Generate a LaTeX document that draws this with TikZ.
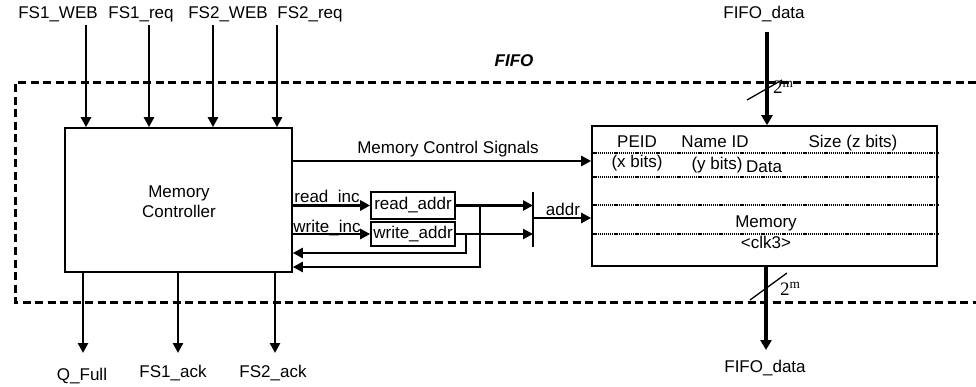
\documentclass[tikz,border=0pt]{standalone}
\usepackage{fontspec}
\setmainfont{Liberation Sans}
\newfontfamily\serifm{Liberation Serif}
\usetikzlibrary{arrows.meta}
\begin{document}
\begin{tikzpicture}[x=1pt,y=-1pt,
  font=\fontsize{17}{20}\selectfont,
  box/.style={draw,line width=1.6pt,inner sep=0pt},
  arr/.style={line width=2.8pt,-{Triangle[length=10pt,width=10pt]}},
  bigarr/.style={line width=4.2pt,-{Triangle[length=10pt,width=11pt]}},
  lbl/.style={anchor=base,inner sep=0pt},
  dotline/.style={line width=2.6pt,dash pattern=on 1.2pt off 0.9pt},
  fifobox/.style={line width=3pt,dash pattern=on 8pt off 4.5pt},
  slash/.style={line width=1.3pt}]
\useasboundingbox (0,0) rectangle (976,387);

% FIFO dashed frame
\draw[fifobox] (976,83) -- (15,83) -- (15,302) -- (976,302);
\node[lbl,font=\fontsize{17}{20}\selectfont\bfseries\itshape] (fifo) at (514,67) {FIFO};

% Memory controller
\node[box,minimum width=227,minimum height=144] (mc) at (178.5,200) {};
\node[lbl] (mct1) at (179,198) {Memory};
\node[lbl] (mct2) at (179,218) {Controller};

% Memory
\node[box,minimum width=345,minimum height=140] (mem) at (764.5,196) {};
\foreach \yy/\nm in {153/d1,177/d2,205/d3,234/d4}{
  \coordinate (\nm) at (0,\yy);
  \draw[dotline] (\nm -| mem.west) -- (\nm -| mem.east);
}
\node[lbl] (peid) at (637,148) {PEID};
\node[lbl] (nameid) at (715,148) {Name ID};
\node[lbl] (size) at (853,148) {Size (z bits)};
\node[lbl] (xb) at (637,168) {(x bits)};
\node[lbl] (yb) at (717,170) {(y bits)};
\node[lbl] (data) at (764,173) {Data};
\node[lbl] (memt) at (766,228) {Memory};
\node[lbl] (clk) at (766,248) {<clk3>};

% top inputs
\foreach \xx/\nm in {86/i1,149/i2,213/i3,277/i4}{
  \coordinate (\nm) at (\xx,25);
  \draw[arr] (\nm) -- (\nm |- mc.north);
}
\node[lbl] (l1) at (58,19) {FS1\_WEB};
\node[lbl] (l2) at (141,19) {FS1\_req};
\node[lbl] (l3) at (228,19) {FS2\_WEB};
\node[lbl] (l4) at (310,19) {FS2\_req};

% bottom outputs
\foreach \xx/\nm in {83/o1,178/o2,275/o3}{
  \coordinate (\nm) at (\xx,353);
  \draw[arr] (\nm |- mc.south) -- (\nm);
}
\node[lbl] (q) at (82,380) {Q\_Full};
\node[lbl] (a1) at (173,377) {FS1\_ack};
\node[lbl] (a2) at (273,377) {FS2\_ack};

% Memory control signals
\coordinate (ms) at (0,161);
\draw[arr] (ms -| mc.east) -- (ms -| mem.west);
\node[lbl] (mcs) at (448,154) {Memory Control Signals};

% address registers
\node[box,minimum width=84,minimum height=27] (ra) at (413,205.5) {read\_addr};
\node[box,minimum width=84,minimum height=24] (wa) at (413,234) {write\_addr};
\draw[arr] (mc.east |- ra.west) -- (ra.west);
\draw[arr] (mc.east |- wa.west) -- (wa.west);
\node[lbl] (ri) at (327,203) {read\_inc};
\node[lbl] (wi) at (327,233) {write\_inc};

% mux bar
\coordinate (mt) at (533,192);
\coordinate (mb) at (533,247);
\draw[line width=2.6pt] (mt) -- (mb);
\draw[arr] (ra.east) -- (ra.east -| mt);
\draw[arr] (wa.east) -- (wa.east -| mt);

% feedback
\coordinate (fb1) at (480,267);
\coordinate (fb2) at (466,253);
\draw[arr] (ra.east -| fb1) -- (fb1) -- (fb1 -| mc.east);
\draw[arr] (wa.east -| fb2) -- (fb2) -- (fb2 -| mc.east);

% addr
\coordinate (am) at (533,218);
\draw[arr] (am) -- (am -| mem.west);
\node[lbl] (addr) at (563,215) {addr};

% FIFO data
\coordinate (ft) at (767,32);
\draw[bigarr] (ft) -- (ft |- mem.north);
\coordinate (fbo) at (766,350);
\draw[bigarr] (fbo |- mem.south) -- (fbo);
\node[lbl] (ftl) at (764,19) {FIFO\_data};
\node[lbl] (fbl) at (765,372) {FIFO\_data};

% width slashes
\coordinate (s1a) at (747,100);
\coordinate (s1b) at (782,80);
\coordinate (s2a) at (750,300);
\coordinate (s2b) at (787,273);
\draw[slash] (s1a) -- (s1b);
\draw[slash] (s2a) -- (s2b);
\node[anchor=base west,inner sep=0pt,font=\serifm\fontsize{19}{22}\selectfont] (w1) at (773,94) {2\textsuperscript{m}};
\node[anchor=base west,inner sep=0pt,font=\serifm\fontsize{19}{22}\selectfont] (w2) at (780,295) {2\textsuperscript{m}};
\end{tikzpicture}
\end{document}
